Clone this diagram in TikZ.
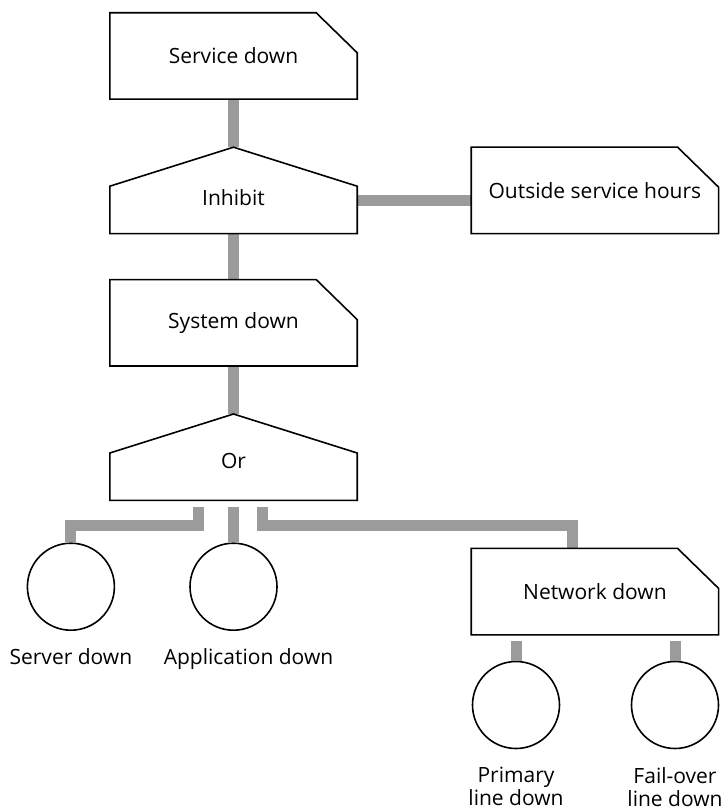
\documentclass[tikz,border=0pt]{standalone}
\usepackage{fontspec}
\setmainfont{Open Sans}
\usetikzlibrary{calc,positioning}
\definecolor{ftgrey}{RGB}{155,155,155}

\begin{document}
\begin{tikzpicture}[x=1pt,y=-1pt,font=\fontsize{21}{23}\selectfont,
    every node/.style={align=center,inner sep=0pt},
    evt/.style={minimum width=247pt,minimum height=86pt},
    gate/.style={minimum width=247pt,minimum height=86pt},
    basic/.style={circle,draw,line width=1.6pt,minimum size=87pt},
    bar/.style={line width=11pt,ftgrey},
    outline/.style={line width=1.6pt,line join=miter}]
        \useasboundingbox (0,0) rectangle (720,810);
        \node[evt] (sd) at (233.5,56) {Service down};
        \node[gate,below=48pt of sd,text height=30pt] (inh) {Inhibit};
        \node[evt,right=114pt of inh] (ooh) {Outside service hours};
        \node[evt,below=46pt of inh] (sys) {System down};
        \node[gate,below=48pt of sys,text height=22pt] (org) {Or};
        \node[basic,below=42pt of org] (app) {};
        \node[basic,left=74pt of app] (srv) {};
        \node[evt,below right=48pt and 114pt of org.south east,anchor=north west] (net) {Network down};
        \node[basic] (pri) at (516,705) {};
        \node[basic] (fov) at (675,705) {};
        \node[below=17pt of srv] (srvt) {Server down};
        \node[below=17pt of app,xshift=15pt] (appt) {Application down};
        \node[below=18pt of pri] (prit) {Primary\\line down};
        \node[below=18pt of fov] (fovt) {Fail-over\\line down};
        % grey connectors
        \draw[bar] (sd.south)--(inh.north);
        \draw[bar] ([yshift=-10pt]inh.east)--([yshift=-10pt]ooh.west);
        \draw[bar] (inh.south)--(sys.north);
        \draw[bar] (sys.south)--(org.north);
        \draw[bar] ($(org.south)+(-35,7)$)--++(0,18)-|(srv.north);
        \draw[bar] ($(org.south)+(0,7)$)--(app.north);
        \draw[bar] ($(org.south)+(29,7)$)--++(0,18)-|([xshift=-22pt]net.north);
        \draw[bar] ($(pri.north |- net.south)+(0,6)$)--(pri.north);
        \draw[bar] ($(fov.north |- net.south)+(0,6)$)--(fov.north);
        % event boxes and gates
        \foreach \n in {sd,ooh,sys,net}
          \draw[outline] (\n.south west)--(\n.north west)--([xshift=-41pt]\n.north east)
            --([yshift=-40pt]\n.north east)--(\n.south east)--cycle;
        \foreach \n in {inh,org}
          \draw[outline] (\n.south west)--([yshift=-39pt]\n.north west)--(\n.north)
            --([yshift=-39pt]\n.north east)--(\n.south east)--cycle;
      \end{tikzpicture}
\end{document}
